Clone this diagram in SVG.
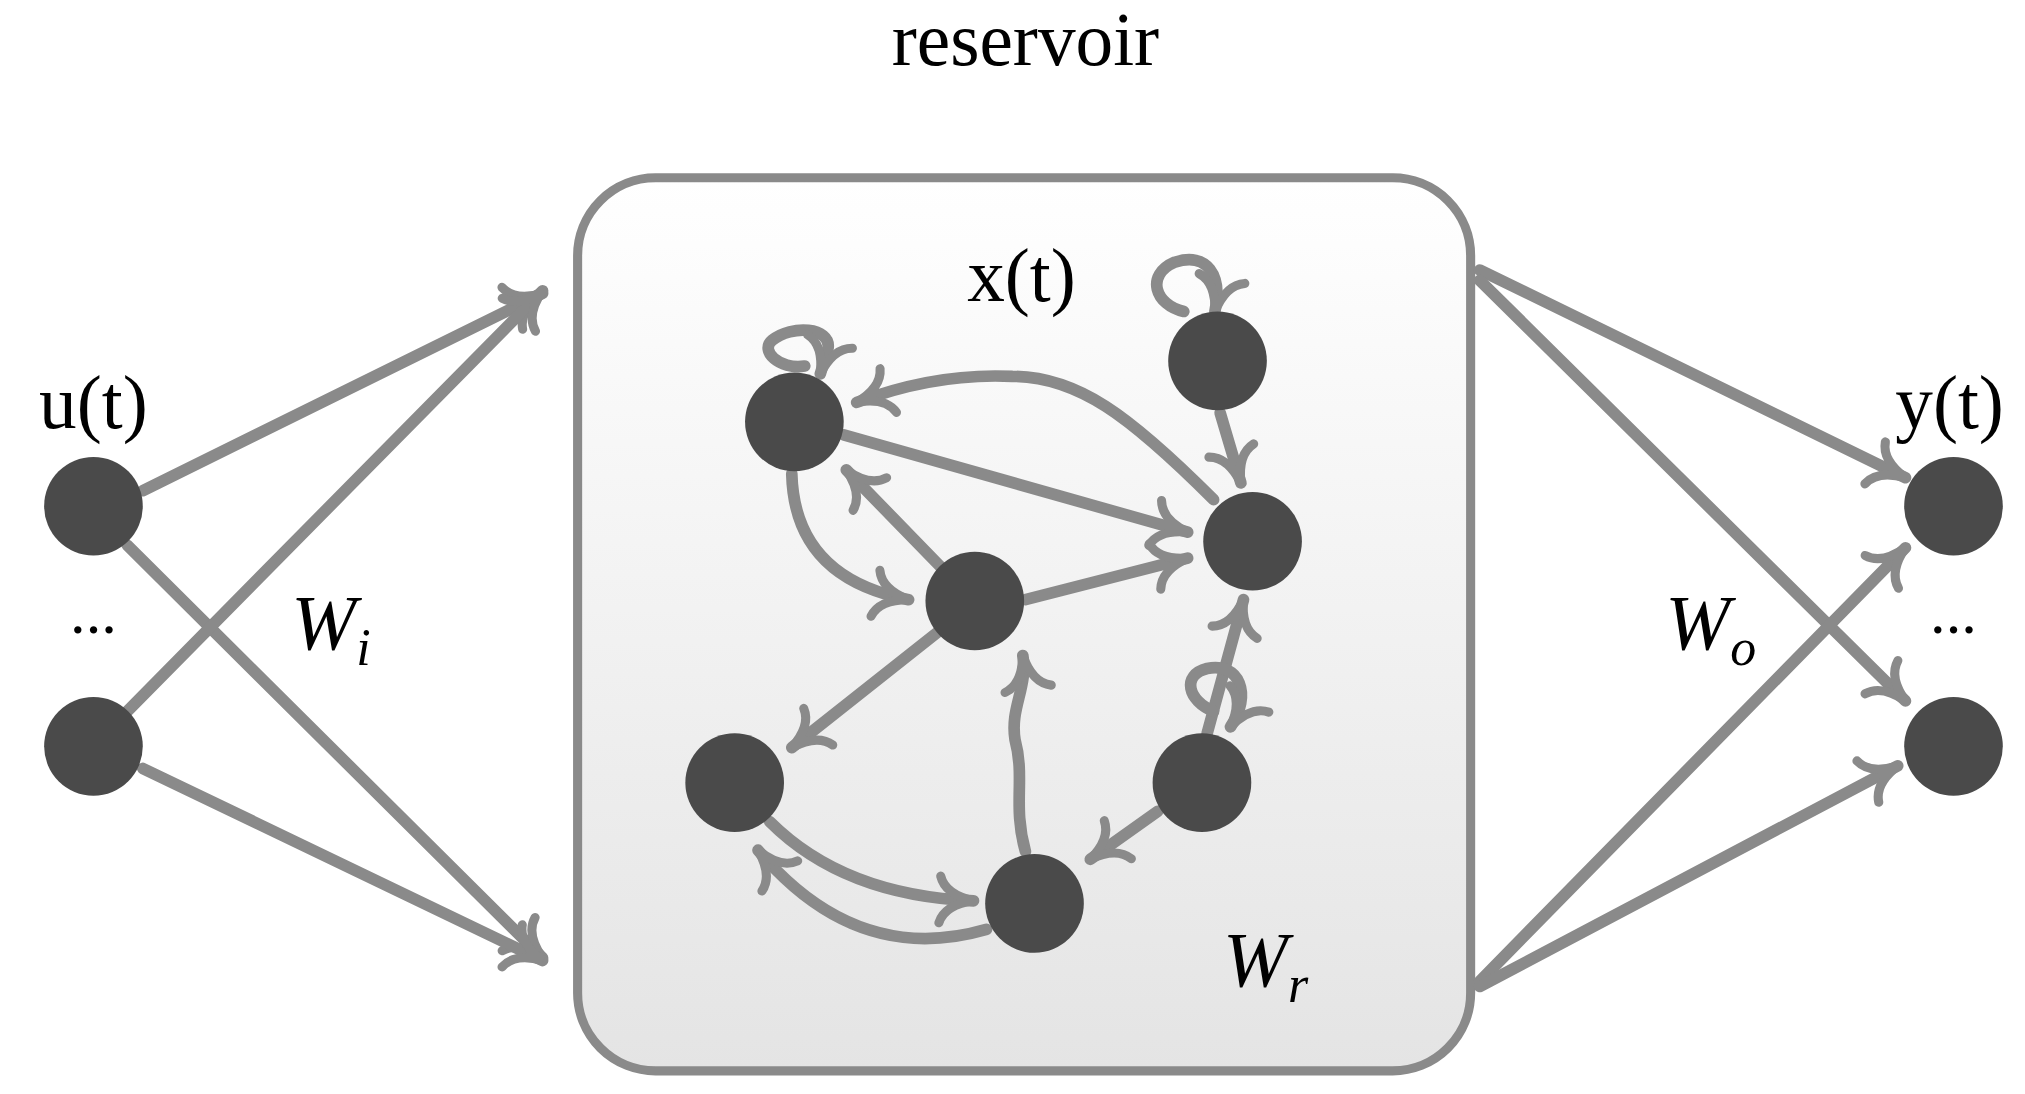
<svg xmlns="http://www.w3.org/2000/svg" width="2025" height="1094" viewBox="0 0 2025 1094">
<style>
.e{fill:none;stroke:#8a8a8a;stroke-width:9;stroke-linecap:round;marker-end:url(#ah)}
.n{fill:#4a4a4a}
.t{font-family:"Liberation Serif",serif;fill:#000;text-anchor:middle}
.i{font-style:italic}
</style>
<defs>
<marker id="ah" markerUnits="userSpaceOnUse" viewBox="-30 -20 36 40" markerWidth="36" markerHeight="40" refX="0" refY="0" orient="auto" overflow="visible">
<path d="M-26,-18 Q-22,-4 0,0 Q-22,4 -26,18" fill="none" stroke="#8a8a8a" stroke-width="7" stroke-linecap="round"/>
</marker>
<linearGradient id="bg" x1="0" y1="0" x2="0" y2="1"><stop offset="0" stop-color="#ffffff"/><stop offset="1" stop-color="#e4e4e4"/></linearGradient>
</defs>
<g transform="scale(1.298)">
<g id="box"><rect x="445" y="137" width="688" height="688" rx="60" fill="url(#bg)" stroke="#8a8a8a" stroke-width="7"/></g>
<g id="connectors">
<path class="e" d="M110,378 L418,226"/>
<path class="e" d="M98,420 L418,738"/>
<path class="e" d="M98,548 L418,224"/>
<path class="e" d="M110,592 L418,740"/>
<path class="e" d="M1140,208 L1468,368"/>
<path class="e" d="M1140,216 L1468,540"/>
<path class="e" d="M1140,756 L1468,422"/>
<path class="e" d="M1140,760 L1462,590"/>
<path class="e" d="M650,335 L915,410"/>
<path class="e" d="M790,462 L915,430"/>
<path class="e" d="M725,437 L652,362"/>
<path class="e" d="M610,365 Q612,445 700,462"/>
<path class="e" d="M935,385 C870,320 830,290 780,290 C740,288 700,295 660,310"/>
<path class="e" d="M620,282 C600,285 585,270 595,262 C610,250 640,252 638,268 L632,288"/>
<path class="e" d="M912,240 C890,235 882,212 905,202 C930,194 942,212 936,240"/>
<path class="e" d="M940,318 L956,372"/>
<path class="e" d="M930,565 L958,462"/>
<path class="e" d="M935,548 C915,540 910,520 930,515 C955,510 965,535 948,560"/>
<path class="e" d="M725,485 L610,576"/>
<path class="e" d="M892,625 L840,662"/>
<path class="e" d="M790,656 C780,620 790,600 782,570 C778,545 792,530 788,505"/>
<path class="e" d="M593,633 Q650,690 750,694"/>
<path class="e" d="M760,716 Q660,745 584,655"/>
</g>
<g id="u1"><circle class="n" cx="72" cy="390" r="38"/></g>
<g id="u2"><circle class="n" cx="72" cy="575" r="38"/></g>
<g id="y1"><circle class="n" cx="1505" cy="390" r="38"/></g>
<g id="y2"><circle class="n" cx="1505" cy="575" r="38"/></g>
<g id="rA"><circle class="n" cx="612" cy="325" r="38"/></g>
<g id="rB"><circle class="n" cx="938" cy="278" r="38"/></g>
<g id="rC"><circle class="n" cx="965" cy="417" r="38"/></g>
<g id="rD"><circle class="n" cx="751" cy="463" r="38"/></g>
<g id="rE"><circle class="n" cx="566" cy="603" r="38"/></g>
<g id="rF"><circle class="n" cx="926" cy="603" r="38"/></g>
<g id="rG"><circle class="n" cx="797" cy="696" r="38"/></g>
<g id="labels">
<text class="t" x="790" y="50" font-size="58">reservoir</text>
<text class="t" x="787" y="232" font-size="58">x(t)</text>
<text class="t" x="72" y="330" font-size="58">u(t)</text>
<text class="t" x="1502" y="330" font-size="58">y(t)</text>
<text class="t" x="72" y="488" font-size="48">...</text>
<text class="t" x="1505" y="488" font-size="48">...</text>
<text class="t" x="255" y="500" font-size="60"><tspan class="i">W</tspan><tspan class="i" font-size="40" dy="12">i</tspan></text>
<text class="t" x="1318" y="500" font-size="60"><tspan class="i">W</tspan><tspan class="i" font-size="40" dy="12">o</tspan></text>
<text class="t" x="975" y="760" font-size="60"><tspan class="i">W</tspan><tspan class="i" font-size="40" dy="12">r</tspan></text>
</g>
</g>
</svg>
